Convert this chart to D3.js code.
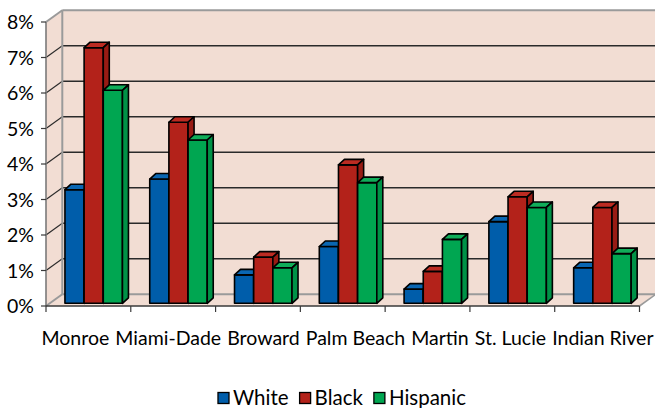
<!DOCTYPE html>
<html>
<head>
<meta charset="utf-8">
<script src="https://cdn.jsdelivr.net/npm/d3@7"></script>
<style>
  html, body { margin: 0; padding: 0; background: #fff; }
  svg { display: block; }
  text { font-family: Lato, "Open Sans", sans-serif; fill: #000; }
</style>
</head>
<body>
<svg id="chart" width="655" height="408"></svg>
<script>
// Counties along the x axis
const categories = ["Monroe", "Miami-Dade", "Broward", "Palm Beach", "Martin", "St. Lucie", "Indian River"];
// Series names (legend order)
const seriesNames = ["White", "Black", "Hispanic"];
// Percent values per county
const whiteValues    = [3.2, 3.5, 0.8, 1.6, 0.4, 2.3, 1.0];
const blackValues    = [7.2, 5.1, 1.3, 3.9, 0.9, 3.0, 2.7];
const hispanicValues = [6.0, 4.6, 1.0, 3.4, 1.8, 2.7, 1.4];
// Y axis tick values (percent)
const yTicks = [0, 1, 2, 3, 4, 5, 6, 7, 8];

const seriesValues = [whiteValues, blackValues, hispanicValues];

// Face colours for each series: front, side, top
const palette = [
  { front: "#005DAA", side: "#004E92", top: "#0A66B2" },
  { front: "#B3221A", side: "#981B14", top: "#BC2B22" },
  { front: "#00A651", side: "#009247", top: "#10AD59" }
];
const wallFill = "#F2DDD3";

const svg = d3.select("#chart");

// Front-plane scales
const x = d3.scaleBand().domain(categories).range([46, 639.5]).padding(0);
const y = d3.scaleLinear().domain([0, 8]).range([306, 22]);

// Depth of the walls/floor and of each column
const depth = { dx: 16.3, dy: -11.7 };
const barDepth = { dx: 6, dy: -5.5 };
const barZ = 0.23;            // columns sit slightly behind the floor's front edge
const groupInset = 15.2;      // left inset of a cluster within its band
const groupWidth = 57.5;

const x1 = d3.scaleBand().domain(seriesNames).range([0, groupWidth]).padding(0);

const line = d3.line();
const poly = pts => line(pts) + "Z";

const x0 = x.range()[0], xEnd = x.range()[1];
const yBase = y(0), yTop = y(8);

// ---- walls and floor ----
const g = svg.append("g");

// back wall
g.append("path")
  .attr("d", poly([[x0 + depth.dx, yBase + depth.dy], [x0 + depth.dx, yTop + depth.dy],
                   [xEnd + depth.dx, yTop + depth.dy], [xEnd + depth.dx, yBase + depth.dy]]))
  .attr("fill", wallFill);

// left side wall
g.append("path")
  .attr("d", poly([[x0, yBase], [x0, yTop], [x0 + depth.dx, yTop + depth.dy], [x0 + depth.dx, yBase + depth.dy]]))
  .attr("fill", wallFill);

// floor
g.append("path")
  .attr("d", poly([[x0, yBase], [xEnd, yBase], [xEnd + depth.dx, yBase + depth.dy], [x0 + depth.dx, yBase + depth.dy]]))
  .attr("fill", wallFill);

// gridlines on the back wall and the side wall
const grid = g.append("g");
yTicks.forEach(t => {
  const yy = y(t);
  const isEdge = (t === 0 || t === 8);
  grid.append("line")
    .attr("x1", x0 + depth.dx).attr("x2", xEnd + depth.dx)
    .attr("y1", yy + depth.dy).attr("y2", yy + depth.dy)
    .attr("stroke", isEdge ? "#9a9a9a" : "#2a2a2a")
    .attr("stroke-width", isEdge ? 2 : 1.5);
  grid.append("line")
    .attr("x1", x0).attr("x2", x0 + depth.dx)
    .attr("y1", yy).attr("y2", yy + depth.dy)
    .attr("stroke", isEdge ? "#9a9a9a" : "#2a2a2a")
    .attr("stroke-width", isEdge ? 2 : 1.1);
});
// back vertical edge of the side wall
grid.append("line")
  .attr("x1", x0 + depth.dx).attr("x2", x0 + depth.dx)
  .attr("y1", yBase + depth.dy).attr("y2", yTop + depth.dy)
  .attr("stroke", "#9a9a9a").attr("stroke-width", 2);
// right edge of the floor
grid.append("line")
  .attr("x1", xEnd).attr("x2", xEnd + depth.dx)
  .attr("y1", yBase).attr("y2", yBase + depth.dy)
  .attr("stroke", "#9a9a9a").attr("stroke-width", 1.6);

// ---- columns ----
const bars = svg.append("g")
  .attr("stroke", "#000")
  .attr("stroke-width", 1.6)
  .attr("stroke-linejoin", "round");

const baseShiftX = barZ * depth.dx, baseShiftY = barZ * depth.dy;

categories.forEach((cat, ci) => {
  seriesNames.forEach((s, si) => {
    const v = seriesValues[si][ci];
    const bx = x(cat) + groupInset + x1(s) + baseShiftX;
    const bw = x1.bandwidth();
    const yb = y(0) + baseShiftY;
    const yt = y(v) + baseShiftY;
    const c = palette[si];
    const bg = bars.append("g");
    // front face
    bg.append("path").attr("d", poly([[bx, yb], [bx, yt], [bx + bw, yt], [bx + bw, yb]])).attr("fill", c.front);
    // top face
    bg.append("path").attr("d", poly([[bx, yt], [bx + barDepth.dx, yt + barDepth.dy],
                                      [bx + bw + barDepth.dx, yt + barDepth.dy], [bx + bw, yt]])).attr("fill", c.top);
    // right side face
    bg.append("path").attr("d", poly([[bx + bw, yt], [bx + bw + barDepth.dx, yt + barDepth.dy],
                                      [bx + bw + barDepth.dx, yb + barDepth.dy], [bx + bw, yb]])).attr("fill", c.side);
  });
});

// ---- axes ----
const axisColor = "#3a3a3a";
// y axis line on the front edge of the side wall
svg.append("line").attr("x1", x0).attr("x2", x0).attr("y1", yBase).attr("y2", yTop)
  .attr("stroke", "#7a7a7a").attr("stroke-width", 1.6);

const yAxisG = svg.append("g");
yTicks.forEach(t => {
  yAxisG.append("line").attr("x1", x0 - 5).attr("x2", x0).attr("y1", y(t)).attr("y2", y(t))
    .attr("stroke", axisColor).attr("stroke-width", 1.2);
  yAxisG.append("text")
    .attr("x", 34).attr("y", y(t)).attr("dy", "0.36em")
    .attr("text-anchor", "end")
    .attr("font-size", 19.5)
    .text(d3.format(".0%")(t / 100));
});

// x axis along the front edge of the floor
svg.append("line").attr("x1", x0).attr("x2", xEnd).attr("y1", yBase).attr("y2", yBase)
  .attr("stroke", axisColor).attr("stroke-width", 1.4);
const tickXs = categories.map(c => x(c)).concat([xEnd]);
tickXs.forEach(tx => {
  svg.append("line").attr("x1", tx).attr("x2", tx).attr("y1", yBase).attr("y2", yBase + 6)
    .attr("stroke", axisColor).attr("stroke-width", 1.2);
});

// category labels spread across one row with even gaps
const labelsG = svg.append("g");
const labelNodes = categories.map(c =>
  labelsG.append("text").attr("y", 345).attr("font-size", 19.5).text(c));
const widths = labelNodes.map(n => n.node().getComputedTextLength());
const rowStart = 41.5, rowEnd = 653.5;
const gap = (rowEnd - rowStart - d3.sum(widths)) / (categories.length - 1);
let cursor = rowStart;
labelNodes.forEach((n, i) => { n.attr("x", cursor); cursor += widths[i] + gap; });

// ---- legend ----
const legend = svg.append("g");
let lx = 0;
seriesNames.forEach((s, i) => {
  const item = legend.append("g").attr("transform", `translate(${lx},0)`);
  item.append("rect").attr("x", 0).attr("y", -5.5).attr("width", 11).attr("height", 11)
    .attr("fill", palette[i].front).attr("stroke", "#000").attr("stroke-width", 1.3);
  const t = item.append("text").attr("x", 15).attr("y", 0).attr("dy", "0.36em")
    .attr("font-size", 20.5).text(s);
  lx += 15 + t.node().getComputedTextLength() + 11;
});
const legendWidth = lx - 11;
legend.attr("transform", `translate(${342 - legendWidth / 2},398)`);
</script>
</body>
</html>
